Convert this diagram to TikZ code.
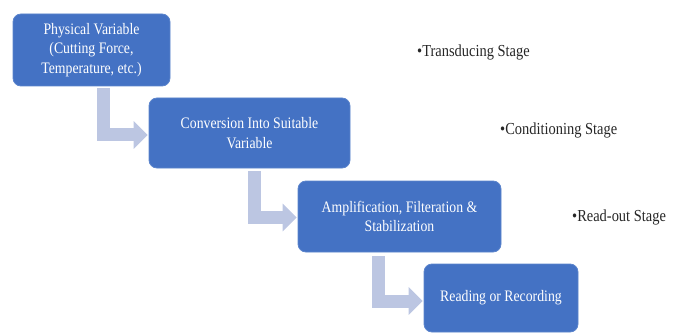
\documentclass[tikz,border=0pt]{standalone}
\usepackage{fontspec}
\setmainfont[FakeStretch=0.86]{Liberation Serif}
\usetikzlibrary{arrows.meta}
\definecolor{boxblue}{HTML}{4472C4}
\definecolor{boxedge}{HTML}{5B84CC}
\definecolor{arrowblue}{HTML}{BCC6E2}
\definecolor{labelgray}{HTML}{262626}
\tikzset{
  stagebox/.style={draw=boxedge, line width=0.8pt, fill=boxblue, rounded corners=8pt,
    text=white, align=center, font=\fontsize{16}{19.5}\selectfont, inner sep=2pt},
  bentarrow/.style={draw=arrowblue, line width=13pt, line join=miter,
    -{Triangle[width=27pt,length=14pt]}, shorten >=1pt},
  stagelabel/.style={anchor=west, text=labelgray, font=\fontsize{16.8}{19}\selectfont, inner sep=0pt}
}
\begin{document}
\begin{tikzpicture}[x=1pt,y=-1pt]
\useasboundingbox (0,0) rectangle (680,334);
\node[stagebox, minimum width=157pt, minimum height=72pt] (b1) at (91.5,50)
  {Physical Variable\\(Cutting Force,\\Temperature, etc.)};
\node[stagebox, minimum width=201pt, minimum height=70pt] (b2) at (249.5,133)
  {Conversion Into Suitable\\Variable};
\node[stagebox, minimum width=203pt, minimum height=71pt] (b3) at (399.5,216.5)
  {Amplification, Filteration \&\\Stabilization};
\node[stagebox, minimum width=154pt, minimum height=68pt] (b4) at (501,298)
  {Reading or Recording};
\coordinate (s1) at ([xshift=90.5pt,yshift=-2pt]b1.south west);
\coordinate (s2) at ([xshift=105.5pt,yshift=-3pt]b2.south west);
\coordinate (s3) at ([xshift=81pt,yshift=-4pt]b3.south west);
\draw[bentarrow] (s1) |- ([yshift=-2pt]b2.west);
\draw[bentarrow] (s2) |- ([yshift=-1pt]b3.west);
\draw[bentarrow] (s3) |- ([yshift=-3pt]b4.west);
\node[stagelabel] (l1) at (417,52) {\textbullet Transducing Stage};
\node[stagelabel] (l2) at (500,130) {\textbullet Conditioning Stage};
\node[stagelabel] (l3) at (572,217) {\textbullet Read-out Stage};
\end{tikzpicture}
\end{document}
